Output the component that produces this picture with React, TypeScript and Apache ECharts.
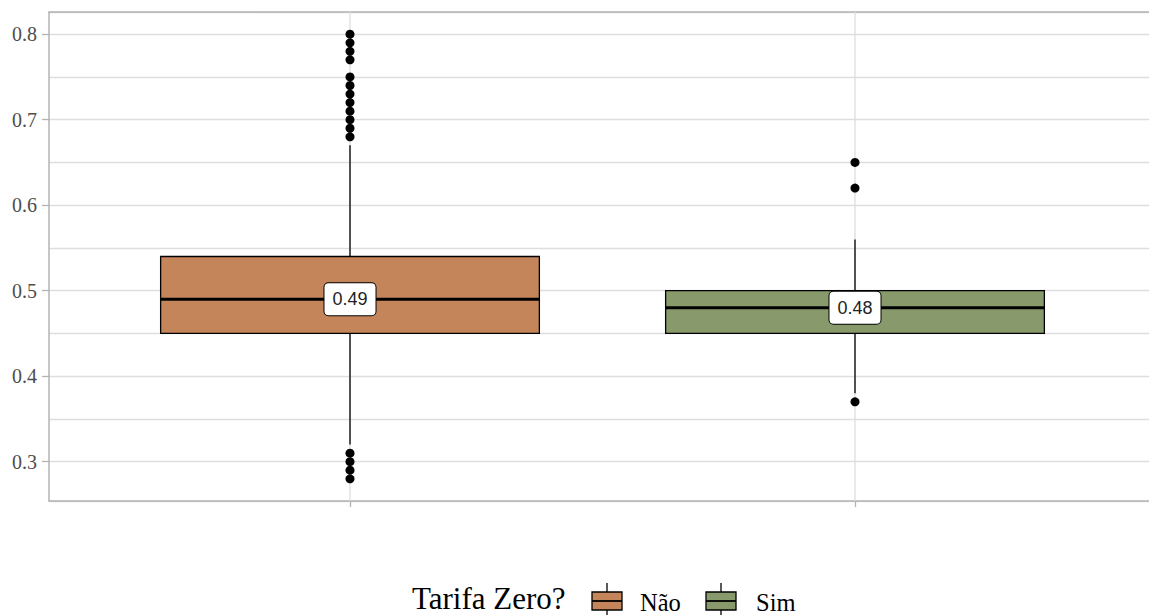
import React, { useEffect, useRef } from "react";
import * as echarts from "echarts";

// ---- data ----
const categories = ["Não", "Sim"];
const lowWhisker = [0.32, 0.38];
const q1 = [0.45, 0.45];
const medians = [0.49, 0.48];
const q3 = [0.54, 0.5];
const highWhisker = [0.67, 0.56];
const outliersNao = [0.28, 0.29, 0.3, 0.31, 0.68, 0.69, 0.7, 0.71, 0.72, 0.73, 0.74, 0.75, 0.77, 0.78, 0.79, 0.8];
const outliersSim = [0.37, 0.62, 0.65];
const yTicks = [0.3, 0.4, 0.5, 0.6, 0.7, 0.8];
const yMin = 0.254;
const yMax = 0.826;
const fills = ["#C4855A", "#889A6C"];
const legendTitle = "Tarifa Zero?";

export default function App() {
  const ref = useRef<HTMLDivElement>(null);

  useEffect(() => {
    if (!ref.current) return;
    const chart = echarts.init(ref.current, undefined, { renderer: "svg" });

    const boxRows = categories.map((_, i) => [i, lowWhisker[i], q1[i], medians[i], q3[i], highWhisker[i]]);
    const outlierRows = [
      ...outliersNao.map((v) => [0, v]),
      ...outliersSim.map((v) => [1, v]),
    ];

    const serif = '"Liberation Serif", "DejaVu Serif", serif';
    const border = { show: true, lineStyle: { color: "#b3b3b3", width: 1.5 } };

    const legendKeys: any[] = [];
    const keyX = [592, 706];
    const labelX = [640, 756];
    categories.forEach((c, i) => {
      const x = keyX[i];
      legendKeys.push(
        { type: "line", shape: { x1: x + 15, y1: 583, x2: x + 15, y2: 620 }, style: { stroke: "#000", lineWidth: 1.3 } },
        { type: "rect", shape: { x, y: 592, width: 30, height: 18 }, style: { fill: fills[i], stroke: "#000", lineWidth: 1.3 } },
        { type: "line", shape: { x1: x, y1: 601, x2: x + 30, y2: 601 }, style: { stroke: "#000", lineWidth: 1.8 } },
        { type: "text", x: labelX[i], y: 602.5, style: { text: c, font: `24.5px ${serif}`, fill: "#000", verticalAlign: "middle" } }
      );
    });

    const option: any = {
      animation: false,
      backgroundColor: "#fff",
      grid: [
        { left: 49, top: 12, width: 1111, height: 489, show: false, outerBoundsMode: "none", containLabel: false },
        { left: 97.5, top: 12, width: 1010, height: 489, outerBoundsMode: "none", containLabel: false },
      ],
      xAxis: [
        {
          gridIndex: 0, type: "value", min: 0, max: 1, position: "bottom",
          axisLine: border, axisTick: { show: false }, axisLabel: { show: false }, splitLine: { show: false },
        },
        {
          gridIndex: 1,
          type: "category",
          data: categories,
          axisLine: { show: false },
          axisLabel: { show: false },
          axisTick: { show: true, alignWithLabel: true, length: 6, lineStyle: { color: "#b3b3b3", width: 1.3 } },
          splitLine: { show: false },
        },
        {
          gridIndex: 0, type: "value", min: 0, max: 1, position: "top",
          axisLine: border, axisTick: { show: false }, axisLabel: { show: false }, splitLine: { show: false },
        },
      ],
      yAxis: [
        {
          gridIndex: 0,
          type: "value",
          min: yMin,
          max: yMax,
          splitNumber: 10,
          position: "left",
          axisLine: { show: false },
          axisTick: { show: false },
          axisLabel: { show: false },
          splitLine: { show: true, lineStyle: { color: "#dedede", width: 1.3 } },
        },
        {
          gridIndex: 0,
          type: "value",
          min: yMin,
          max: yMax,
          position: "left",
          axisLine: border,
          axisTick: { show: true, length: 7, customValues: yTicks, lineStyle: { color: "#b3b3b3", width: 1.3 } },
          axisLabel: {
            show: true,
            customValues: yTicks,
            margin: 12,
            color: "#4d4d4d",
            fontFamily: serif,
            fontSize: 20,
            formatter: (v: number) => (yTicks.some((t) => Math.abs(t - v) < 1e-6) ? v.toFixed(1) : ""),
          },
          splitLine: { show: false },
        },
        { gridIndex: 1, type: "value", min: yMin, max: yMax, show: false },
      ],
      series: [
        {
          type: "custom",
          xAxisIndex: 1,
          yAxisIndex: 2,
          z: 3,
          data: boxRows,
          encode: { x: 0, y: [1, 2, 3, 4, 5] },
          renderItem: (params: any, api: any) => {
            const i = api.value(0);
            const lo = api.value(1);
            const a = api.value(2);
            const m = api.value(3);
            const b = api.value(4);
            const hi = api.value(5);
            const band = api.size([1, 0])[0];
            const w = band * 0.75;
            const pLo = api.coord([i, lo]);
            const pA = api.coord([i, a]);
            const pM = api.coord([i, m]);
            const pB = api.coord([i, b]);
            const pHi = api.coord([i, hi]);
            const cx = pM[0];
            const cs = params.coordSys;
            return {
              type: "group",
              children: [
                { type: "line", shape: { x1: cx, y1: cs.y, x2: cx, y2: cs.y + cs.height }, style: { stroke: "#dedede", lineWidth: 1.3 } },
                { type: "line", shape: { x1: cx, y1: pHi[1], x2: cx, y2: pB[1] }, style: { stroke: "#000", lineWidth: 1.3 } },
                { type: "line", shape: { x1: cx, y1: pA[1], x2: cx, y2: pLo[1] }, style: { stroke: "#000", lineWidth: 1.3 } },
                { type: "rect", shape: { x: cx - w / 2, y: pB[1], width: w, height: pA[1] - pB[1] }, style: { fill: fills[i], stroke: "#000", lineWidth: 1.3 } },
                { type: "line", shape: { x1: cx - w / 2, y1: pM[1], x2: cx + w / 2, y2: pM[1] }, style: { stroke: "#000", lineWidth: 3 } },
                {
                  type: "text",
                  x: cx,
                  y: pM[1],
                  z2: 10,
                  style: {
                    text: m.toFixed(2),
                    align: "center",
                    verticalAlign: "middle",
                    fill: "#222",
                    font: '18px "Liberation Sans", Arial, sans-serif',
                    backgroundColor: "#fff",
                    borderColor: "#000",
                    borderWidth: 1,
                    borderRadius: 4,
                    padding: [7, 8],
                  },
                },
              ],
            };
          },
        },
        {
          type: "scatter",
          xAxisIndex: 1,
          yAxisIndex: 2,
          z: 4,
          symbol: "circle",
          symbolSize: 9,
          itemStyle: { color: "#000", opacity: 1 },
          data: outlierRows,
        },
      ],
      graphic: [
        { type: "text", x: 412, y: 598.5, style: { text: legendTitle, font: `31px ${serif}`, fill: "#000", verticalAlign: "middle" } },
        ...legendKeys,
      ],
    };

    chart.setOption(option);
    return () => chart.dispose();
  }, []);

  return <div ref={ref} style={{ position: "absolute", left: 0, top: 0, width: 1149, height: 615 }} />;
}
